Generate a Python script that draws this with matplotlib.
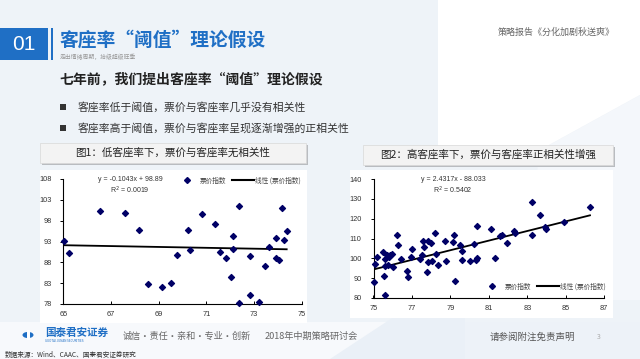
import matplotlib
matplotlib.use("Agg")
import matplotlib.pyplot as plt
from matplotlib.patches import Rectangle, Polygon, Circle, Wedge
from matplotlib.lines import Line2D
import numpy as np

plt.rcParams['font.family'] = ['Noto Sans CJK SC', 'DejaVu Sans']

# ---------------- data ----------------
left_x = [65.04, 65.25, 66.54, 67.57, 68.17, 68.57, 69.13, 69.50, 69.77, 70.24,
          70.31, 70.80, 71.36, 71.56, 71.84, 72.03, 72.10, 72.10, 72.38, 72.38,
          72.83, 72.85, 73.20, 73.45, 73.64, 73.92, 73.92, 74.03, 74.16, 74.27, 74.37]
left_y = [93.2, 90.2, 100.2, 99.8, 95.7, 82.8, 82.1, 83.1, 89.8, 95.7,
          91.0, 99.7, 97.1, 90.6, 89.0, 84.5, 94.2, 91.1, 101.5, 78.3,
          89.5, 80.2, 78.4, 87.1, 91.8, 93.9, 89.0, 88.6, 101.1, 93.4, 95.4]
left_slope, left_intercept = -0.1043, 98.89

right_x = [75.03, 75.07, 75.17, 75.50, 75.57, 75.59, 75.62, 75.70, 75.75, 75.59,
           75.80, 75.85, 75.94, 75.99, 76.20, 76.29, 76.44, 76.76, 76.78, 77.00,
           76.97, 77.42, 77.50, 77.59, 77.64, 77.85, 77.76, 77.85, 77.99, 78.04,
           78.19, 78.26, 78.37, 78.71, 78.76,
           79.21, 79.14, 79.25, 79.50, 79.58, 79.58, 80.02, 80.25, 80.32, 80.37,
           80.39, 81.12, 81.32, 81.56, 81.70, 81.93, 82.32, 82.35, 83.23, 83.23,
           83.65, 83.93, 83.98, 84.91, 86.26]
right_y = [88.1, 97.1, 100.5, 103.2, 91.2, 95.9, 99.5, 101.5, 96.8, 81.6,
           100.5, 101.8, 102.2, 95.7, 111.6, 106.7, 99.6, 93.7, 90.5, 104.7,
           100.8, 99.8, 101.7, 108.8, 105.9, 108.6, 93.0, 97.9, 107.6, 98.4,
           113.0, 102.2, 96.8, 108.8, 98.4,
           112.0, 108.4, 88.6, 106.6, 103.5, 99.1, 98.4, 107.4, 99.1, 100.0,
           116.2, 114.8, 100.1, 111.3, 111.6, 107.7, 114.0, 112.6, 128.7, 112.0,
           121.8, 116.0, 114.8, 118.2, 126.1]
right_slope, right_intercept = 2.4317, -88.033

left_xticks = [65, 67, 69, 71, 73, 75]
left_yticks = [78, 83, 88, 93, 98, 103, 108]
right_xticks = [75, 77, 79, 81, 83, 85, 87]
right_yticks = [80, 90, 100, 110, 120, 130, 140]

# ---------------- figure ----------------
W, H = 640, 359
fig = plt.figure(figsize=(6.4, 3.59), dpi=100)
fig.patch.set_facecolor('#eef3f8')


def P(x, y):
    return (x / W, 1 - y / H)


def rect(x0, y0, x1, y1, zorder=-1, **kw):
    r = Rectangle(P(x0, y1), (x1 - x0) / W, (y1 - y0) / H,
                  transform=fig.transFigure, zorder=zorder, **kw)
    fig.add_artist(r)
    return r


def poly(pts, zorder=-2, **kw):
    p = Polygon([P(x, y) for x, y in pts], closed=True,
                transform=fig.transFigure, zorder=zorder, **kw)
    fig.add_artist(p)


def txt(x, y, s, **kw):
    kw.setdefault('va', 'center')
    fig.text(*P(x, y), s, **kw)

# background shapes
poly([(438, 0), (640, 0), (640, 95), (540, 150), (438, 150)], facecolor='white', edgecolor='none')
poly([(540, 150), (640, 95), (640, 300), (520, 300)], facecolor='#f4f7fb', edgecolor='none')
poly([(0, 322), (465, 322), (465, 359), (0, 359)], facecolor='#f7f9fc', edgecolor='none')
poly([(330, 359), (465, 270), (465, 359)], facecolor='#eaf0f7', edgecolor='none')
poly([(465, 322), (640, 322), (640, 359), (465, 359)], facecolor='#edf2f8', edgecolor='none')

blue = '#1f6fc5'
# header
rect(0, 28, 48, 60, facecolor=blue, edgecolor='none', zorder=1)
txt(24, 44, '01', color='white', fontsize=15, ha='center', family=['Liberation Sans', 'DejaVu Sans'])
rect(51, 28, 53, 60, facecolor=blue, edgecolor='none', zorder=1)
txt(59, 40, '客座率“阈值”理论假设', color=blue, fontsize=13.5, fontweight='bold', ha='left')
txt(60, 56.5, '走出情绪周期，拾级超级旺季', color='#999999', fontsize=4.2, ha='left')
txt(615, 32.5, '策略报告《分化加剧秋送爽》', color='#666666', fontsize=6.5, ha='right')
txt(59, 79, '七年前，我们提出客座率“阈值”理论假设', color='#222222', fontsize=10, fontweight='bold', ha='left')

bullets = ['客座率低于阈值，票价与客座率几乎没有相关性',
           '客座率高于阈值，票价与客座率呈现逐渐增强的正相关性']
for i, b in enumerate(bullets):
    y = 107 + i * 21
    rect(60, y - 2.8, 65.5, y + 2.8, facecolor='#333333', edgecolor='none', zorder=1)
    txt(78, y, b, color='#333333', fontsize=7.8, ha='left')

# chart title boxes with shadow
for (x0, y0, x1, y1, label) in [(40, 143, 306, 163, '图1：低客座率下，票价与客座率无相关性'),
                                 (363, 145, 613, 165, '图2：高客座率下，票价与客座率正相关性增强')]:
    rect(x0 + 2, y0 + 2, x1 + 2, y1 + 2, facecolor='#b9bcc0', edgecolor='none', zorder=1)
    rect(x0, y0, x1, y1, facecolor='#f3f3f3', edgecolor='#d8d8d8', linewidth=0.5, zorder=1.1)
    txt((x0 + x1) / 2, (y0 + y1) / 2, label, color='#222222', fontsize=7.6, ha='center', zorder=2)

# chart panels
rect(40, 170, 307, 323, facecolor='white', edgecolor='none')
rect(350, 170, 613, 318, facecolor='white', edgecolor='none')

navy = '#000066'


def make_axes(left_px, right_px, top_px, bottom_px):
    x0, y0 = P(left_px, bottom_px)
    return fig.add_axes([x0, y0, (right_px - left_px) / W, (bottom_px - top_px) / H])


def style(ax, xt, yt):
    ax.set_facecolor('none')
    for s in ['top', 'right']:
        ax.spines[s].set_visible(False)
    for s in ['left', 'bottom']:
        ax.spines[s].set_linewidth(0.8)
        ax.spines[s].set_color('black')
    ax.set_xticks(xt)
    ax.set_yticks(yt)
    ax.tick_params(axis='y', direction='out', length=2.5, width=0.7, labelsize=5.3, pad=6, labelcolor='#333333')
    ax.tick_params(axis='x', direction='in', length=2.5, width=0.7, labelsize=5.3, pad=5, labelcolor='#333333')
    ax.set_xlim(xt[0], xt[-1])
    ax.set_ylim(yt[0], yt[-1])
    for lbl in ax.get_xticklabels() + ax.get_yticklabels():
        lbl.set_family(['Liberation Sans', 'DejaVu Sans'])


# left chart
ax1 = make_axes(63.3, 301.7, 179, 304)
style(ax1, left_xticks, left_yticks)
ax1.scatter(left_x, left_y, marker='D', s=9, color=navy, zorder=3, clip_on=False)
lx = np.array([min(left_x), max(left_x)])
ax1.plot(lx, left_slope * lx + left_intercept, color='black', lw=1.3, zorder=2)
txt(130, 179.5, 'y = -0.1043x + 98.89', fontsize=5, color='#333333', ha='center', family=['Liberation Sans', 'DejaVu Sans'])
txt(130, 190, 'R$^2$ = 0.0019', fontsize=5, color='#333333', ha='center', family=['Liberation Sans', 'DejaVu Sans'])
h1 = [Line2D([], [], marker='D', ls='none', color=navy, markersize=3),
      Line2D([], [], color='black', lw=1.5)]
fig.legend(h1, ['票价指数', '线性 (票价指数)'], loc='center right', bbox_to_anchor=P(304, 180.5),
           ncol=2, frameon=False, fontsize=4.8, handlelength=3.3, handletextpad=0.2,
           columnspacing=0.8, borderpad=0, labelcolor='#444444')

# right chart
ax2 = make_axes(373.5, 604.2, 179.2, 297.8)
style(ax2, right_xticks, right_yticks)
ax2.scatter(right_x, right_y, marker='D', s=9, color=navy, zorder=3, clip_on=False)
rx = np.array([min(right_x), max(right_x)])
ax2.plot(rx, right_slope * rx + right_intercept, color='black', lw=1.3, zorder=2)
txt(453, 179.5, 'y = 2.4317x - 88.033', fontsize=5, color='#333333', ha='center', family=['Liberation Sans', 'DejaVu Sans'])
txt(453, 190, 'R$^2$ = 0.5402', fontsize=5, color='#333333', ha='center', family=['Liberation Sans', 'DejaVu Sans'])
fig.legend(h1, ['票价指数', '线性 (票价指数)'], loc='center right', bbox_to_anchor=P(609, 286.7),
           ncol=2, frameon=False, fontsize=4.8, handlelength=3.3, handletextpad=0.2,
           columnspacing=0.8, borderpad=0, labelcolor='#444444')

# footer
c = Circle(P(28, 335), 5.5 / W, transform=fig.transFigure, facecolor=blue, edgecolor='none', zorder=1)
fig.add_artist(c)
rect(27, 330, 30, 340, facecolor='white', edgecolor='none', zorder=1.1)
txt(45, 333, '国泰君安证券', color=blue, fontsize=7.6, fontweight='bold', ha='left')
txt(45, 340.5, 'GUOTAI JUNAN SECURITIES', color=blue, fontsize=2.2, ha='left')
rect(116.5, 327, 117.3, 345, facecolor='#aaaaaa', edgecolor='none', zorder=1)
txt(123, 336, '诚信·责任·亲和·专业·创新', color='#666666', fontsize=6.6, ha='left')
rect(259.5, 327, 260.3, 345, facecolor='#aaaaaa', edgecolor='none', zorder=1)
txt(265, 336, '2018年中期策略研讨会', color='#666666', fontsize=6.6, ha='left')
txt(490, 337, '请参阅附注免责声明', color='#555555', fontsize=6.8, ha='left')
txt(597, 337, '3', color='#aaaaaa', fontsize=5, ha='left')
txt(5, 355, '数据来源：Wind、CAAC、国泰君安证券研究', color='#333333', fontsize=4.8, ha='left')

fig.savefig('out.png', dpi=100, facecolor=fig.get_facecolor())
